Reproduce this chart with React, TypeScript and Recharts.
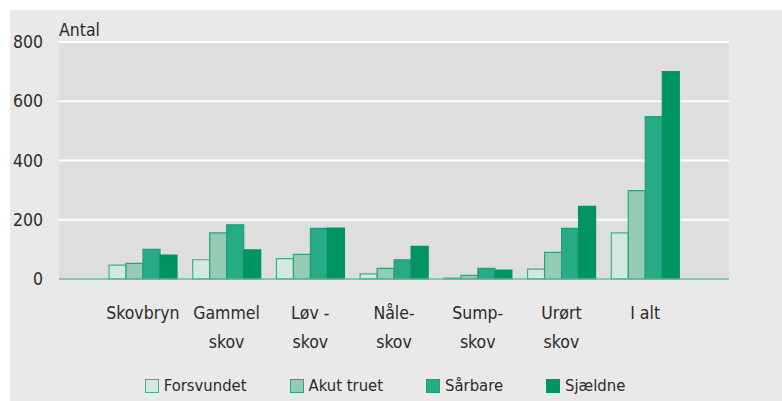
import { BarChart, Bar, XAxis, YAxis, CartesianGrid } from "recharts";

const categories = ["Skovbryn", "Gammel\nskov", "Løv -\nskov", "Nåle-\nskov", "Sump-\nskov", "Urørt\nskov", "I alt"];
const forsvundet = [47, 65, 69, 17, 3, 33, 156];
const akutTruet = [53, 156, 83, 36, 12, 90, 298];
const saarbare = [100, 183, 171, 65, 36, 171, 548];
const sjaeldne = [81, 98, 172, 110, 30, 245, 700];
const yTicks = [0, 200, 400, 600, 800];

const SERIES = [
  { key: "forsvundet", name: "Forsvundet", fill: "#d3e8de", stroke: "#3fae86" },
  { key: "akutTruet", name: "Akut truet", fill: "#93cbb5", stroke: "#2ba37c" },
  { key: "saarbare", name: "Sårbare", fill: "#27aa86", stroke: "#1f9e78" },
  { key: "sjaeldne", name: "Sjældne", fill: "#009463", stroke: "#009463" },
];

const data = categories.map((name, i) => ({
  name,
  forsvundet: forsvundet[i],
  akutTruet: akutTruet[i],
  saarbare: saarbare[i],
  sjaeldne: sjaeldne[i],
}));

const FONT = "'DejaVu Sans Condensed', 'DejaVu Sans', sans-serif";
const TEXT = "#2b2b2b";
const FS = 17.5;

function CategoryTick(props: any) {
  const { x, y, payload } = props;
  const lines = String(payload.value).split("\n");
  return (
    <g>
      {lines.map((line, i) => (
        <text
          key={i}
          x={x}
          y={y + 32 + i * 29}
          textAnchor="middle"
          fill={TEXT}
          fontSize={FS}
          fontFamily={FONT}
          fontStretch="condensed"
        >
          {line}
        </text>
      ))}
    </g>
  );
}

export default function App() {
  return (
    <div style={{ position: "absolute", left: 0, top: 0, width: 782, height: 401, background: "#ffffff" }}>
      <div
        style={{
          position: "absolute",
          left: 10,
          top: 10,
          width: 772,
          height: 391,
          background: "#e9e9e9",
          fontFamily: FONT,
          fontStretch: "condensed",
        }}
      >
        <div style={{ position: "absolute", left: 49, top: 9, fontSize: FS, color: TEXT, lineHeight: "22px" }}>
          Antal
        </div>
        <BarChart
          width={772}
          height={391}
          data={data}
          margin={{ top: 32, right: 53, bottom: 42, left: 0 }}
          barCategoryGap={8}
          barGap={0}
        >
          <CartesianGrid
            vertical={false}
            stroke="#ffffff"
            strokeWidth={2}
            fill="#dedede"
            fillOpacity={1}
          />
          <YAxis
            domain={[0, 800]}
            ticks={yTicks}
            width={49}
            axisLine={false}
            tickLine={false}
            tickSize={0}
            tickMargin={16}
            tick={{ fill: TEXT, fontSize: FS, fontFamily: FONT, fontStretch: "condensed" }}
          />
          <XAxis
            dataKey="name"
            height={80}
            interval={0}
            padding={{ left: 42, right: 42 }}
            axisLine={{ stroke: "#5ab594", strokeWidth: 1.5 }}
            tickLine={false}
            tick={<CategoryTick />}
          />
          {SERIES.map((s) => (
            <Bar
              key={s.key}
              dataKey={s.key}
              name={s.name}
              fill={s.fill}
              stroke={s.stroke}
              strokeWidth={1.2}
              isAnimationActive={false}
            />
          ))}
        </BarChart>
        <div
          style={{
            position: "absolute",
            left: 0,
            width: 750,
            top: 365,
            display: "flex",
            justifyContent: "center",
            gap: 43,
            fontSize: 16.5,
            color: TEXT,
            lineHeight: "22px",
          }}
        >
          {SERIES.map((s) => (
            <div key={s.key} style={{ display: "flex", alignItems: "center", gap: 5 }}>
              <span
                style={{
                  display: "inline-block",
                  width: 12,
                  height: 12,
                  background: s.fill,
                  border: `1px solid ${s.stroke}`,
                }}
              />
              <span>{s.name}</span>
            </div>
          ))}
        </div>
      </div>
    </div>
  );
}
